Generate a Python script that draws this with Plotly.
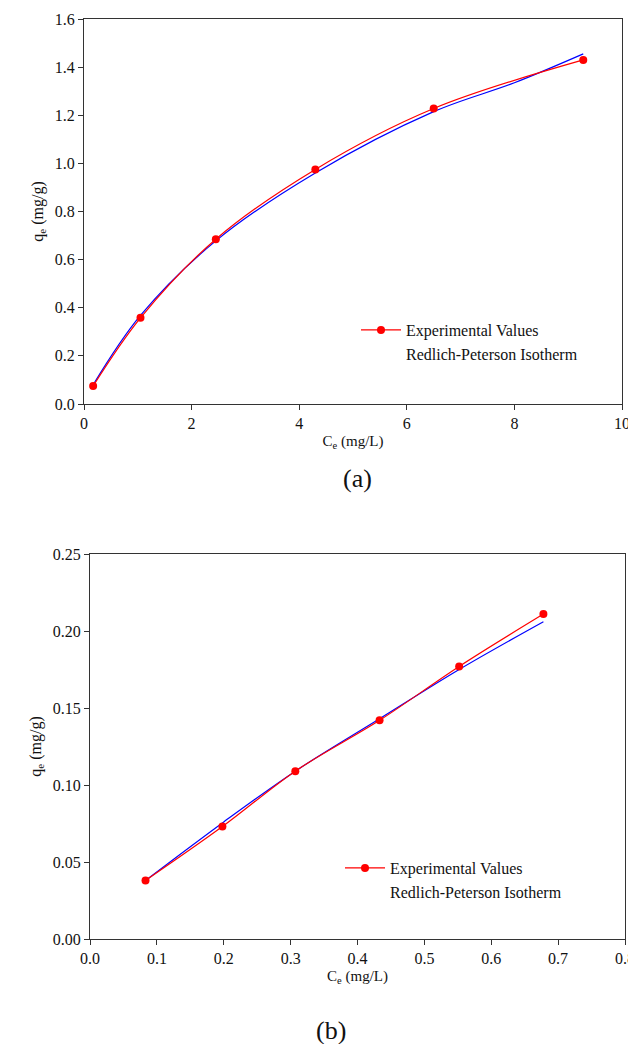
import plotly.graph_objects as go

# Page body adds an 8px margin; figure is sized/positioned to compensate.
OFF = 8
W, H = 628, 1036

# Panel (a) data
a_exp_x = [0.17, 1.05, 2.45, 4.30, 6.50, 9.28]
a_exp_y = [0.075, 0.358, 0.685, 0.975, 1.228, 1.430]
a_fit_x = [0.17, 1.05, 2.45, 4.30, 6.50, 8.00, 9.28]
a_fit_y = [0.080, 0.368, 0.678, 0.960, 1.215, 1.335, 1.455]

# Panel (b) data
b_exp_x = [0.083, 0.198, 0.307, 0.433, 0.552, 0.678]
b_exp_y = [0.038, 0.073, 0.109, 0.142, 0.177, 0.211]
b_fit_x = [0.083, 0.200, 0.307, 0.433, 0.552, 0.678]
b_fit_y = [0.038, 0.076, 0.109, 0.143, 0.175, 0.206]

a_xticks = [0, 2, 4, 6, 8, 10]
a_yticks = [0.0, 0.2, 0.4, 0.6, 0.8, 1.0, 1.2, 1.4, 1.6]
b_xticks = [0.0, 0.1, 0.2, 0.3, 0.4, 0.5, 0.6, 0.7, 0.8]
b_yticks = [0.00, 0.05, 0.10, 0.15, 0.20, 0.25]

FONT = "Times New Roman"
RED = "#ff0000"
BLUE = "#0000ff"
AX = "#333333"
TXT = "#111111"

def px_x(p):
    return (p - OFF) / W

def px_y(p):
    return 1 - (p - OFF) / H

fig = go.Figure()

# panel a
fig.add_trace(go.Scatter(x=a_fit_x, y=a_fit_y, mode="lines", line=dict(color=BLUE, width=1.2, shape="spline"),
                         showlegend=False, xaxis="x", yaxis="y"))
fig.add_trace(go.Scatter(x=a_exp_x, y=a_exp_y, mode="lines+markers", name="Experimental Values",
                         line=dict(color=RED, width=1.2, shape="spline"), marker=dict(color=RED, size=8),
                         xaxis="x", yaxis="y", legend="legend"))
fig.add_trace(go.Scatter(x=[None], y=[None], mode="lines", name="Redlich-Peterson Isotherm",
                         line=dict(color="rgba(0,0,0,0)", width=1), xaxis="x", yaxis="y", legend="legend"))

# panel b
fig.add_trace(go.Scatter(x=b_fit_x, y=b_fit_y, mode="lines", line=dict(color=BLUE, width=1.2, shape="spline"),
                         showlegend=False, xaxis="x2", yaxis="y2"))
fig.add_trace(go.Scatter(x=b_exp_x, y=b_exp_y, mode="lines+markers", name="Experimental Values",
                         line=dict(color=RED, width=1.2, shape="spline"), marker=dict(color=RED, size=8),
                         xaxis="x2", yaxis="y2", legend="legend2"))
fig.add_trace(go.Scatter(x=[None], y=[None], mode="lines", name="Redlich-Peterson Isotherm",
                         line=dict(color="rgba(0,0,0,0)", width=1), xaxis="x2", yaxis="y2", legend="legend2"))

axis_common = dict(showline=True, linecolor=AX, linewidth=1.2, mirror=True, ticks="outside", ticklen=5,
                   tickcolor=AX, tickwidth=1, showgrid=False, zeroline=False, automargin=False,
                   tickfont=dict(family=FONT, size=16, color=TXT))

fig.update_layout(
    width=W, height=H, margin=dict(l=0, r=0, t=0, b=0, autoexpand=False),
    paper_bgcolor="white", plot_bgcolor="white",
    font=dict(family=FONT, color=TXT),
    xaxis=dict(domain=[px_x(84), px_x(622)], range=[0, 10], tickvals=a_xticks, anchor="y",
               title=dict(text="C<sub>e</sub> (mg/L)", font=dict(family=FONT, size=15), standoff=4),
               **axis_common),
    yaxis=dict(domain=[px_y(404), px_y(19)], range=[0, 1.6], tickvals=a_yticks, tickformat=".1f", anchor="x",
               title=dict(text="q<sub>e</sub> (mg/g)", font=dict(family=FONT, size=16), standoff=7),
               **axis_common),
    xaxis2=dict(domain=[px_x(90), px_x(625)], range=[0, 0.8], tickvals=b_xticks, tickformat=".1f", anchor="y2",
                title=dict(text="C<sub>e</sub> (mg/L)", font=dict(family=FONT, size=15), standoff=4),
                **axis_common),
    yaxis2=dict(domain=[px_y(939), px_y(554)], range=[0, 0.25], tickvals=b_yticks, tickformat=".2f", anchor="x2",
                title=dict(text="q<sub>e</sub> (mg/g)", font=dict(family=FONT, size=16), standoff=7),
                **axis_common),
    legend=dict(x=px_x(356), y=px_y(313), xanchor="left", yanchor="top", bgcolor="rgba(0,0,0,0)",
                font=dict(family=FONT, size=16, color=TXT), itemwidth=40, tracegroupgap=0),
    legend2=dict(x=px_x(340), y=px_y(851), xanchor="left", yanchor="top", bgcolor="rgba(0,0,0,0)",
                 font=dict(family=FONT, size=16, color=TXT), itemwidth=40, tracegroupgap=0),
    annotations=[
        dict(text="(a)", x=px_x(357), y=px_y(478), xref="paper", yref="paper", showarrow=False,
             font=dict(family=FONT, size=26, color=TXT), xanchor="center", yanchor="middle"),
        dict(text="(b)", x=px_x(331), y=px_y(1030), xref="paper", yref="paper", showarrow=False,
             font=dict(family=FONT, size=26, color=TXT), xanchor="center", yanchor="middle"),
    ],
)

fig.write_html("out.html")
